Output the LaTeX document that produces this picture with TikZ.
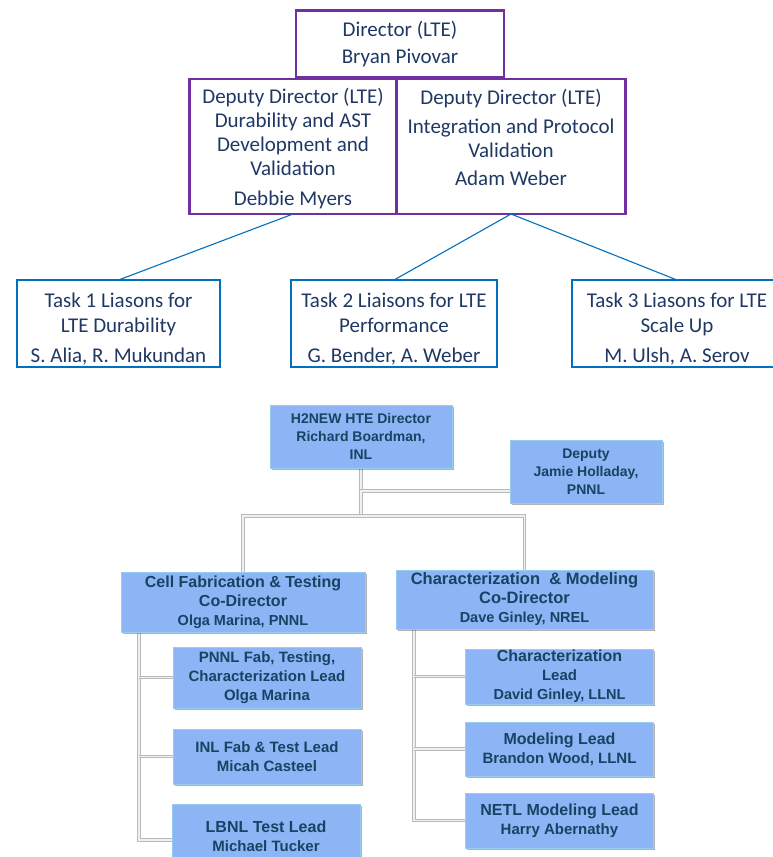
\documentclass[tikz,border=0pt]{standalone}
\usepackage{fontspec}
\newfontfamily\ltefont{Carlito}
\newfontfamily\htefont{Liberation Sans}
\usetikzlibrary{positioning,shadows,backgrounds,calc}

\definecolor{ltepurple}{RGB}{112,48,160}
\definecolor{ltetext}{RGB}{31,56,100}
\definecolor{taskblue}{RGB}{0,112,192}
\definecolor{htefill}{RGB}{141,180,245}
\definecolor{hteedge}{RGB}{150,205,240}
\definecolor{htetext}{RGB}{22,68,98}

\newcommand{\namesize}{\fontsize{14.5}{19}\selectfont}

\tikzset{
  ltebox/.style={draw=ltepurple, line width=2.6pt, text=ltetext, align=center,
    inner sep=0pt, outer sep=0pt, font=\ltefont\fontsize{21}{24}\selectfont},
  taskbox/.style={draw=taskblue, line width=2.6pt, text=ltetext, align=center,
    inner sep=0pt, outer sep=0pt, minimum height=87pt,
    font=\ltefont\fontsize{21}{25}\selectfont},
  liaison/.style={draw=taskblue, line width=1.1pt},
  htebox/.style={fill=htefill, draw=hteedge, line width=1pt, text=htetext,
    align=center, inner sep=0pt, outer sep=0pt,
    font=\htefont\bfseries\fontsize{15}{19}\selectfont,
    drop shadow={shadow xshift=1.5pt, shadow yshift=-1.5pt, opacity=.3, fill=black}},
  branch/.style={draw=gray!55, line width=.7pt, double=gray!12, double distance=1.8pt}
}

\begin{document}
\begin{tikzpicture}[x=1pt, y=-1pt]
  \useasboundingbox (0,0) rectangle (773,857);

  \node [ltebox, minimum width=208pt, minimum height=67pt] (dir) at (400,44)
    {Director (LTE)\\[3pt] Bryan Pivovar};
  \node [ltebox, minimum width=207pt, minimum height=135pt] (depL) at (293,146.5)
    {\rule{0pt}{19pt}Deputy Director (LTE)\\ Durability and AST\\ Development and\\ Validation\\[6pt] Debbie Myers};
  \node [ltebox, minimum width=229pt, minimum height=135pt, right=0pt of depL] (depR)
    {Deputy Director (LTE)\\[5pt] Integration and Protocol\\ Validation\\[4pt] Adam Weber\rule[-18pt]{0pt}{1pt}};

  \foreach \i/\x/\w/\txt in {
      1/118.5/203/{Task 1 Liasons for\\ LTE Durability\\[5pt] S. Alia, R. Mukundan},
      2/394/206/{Task 2 Liaisons for LTE\\ Performance\\[5pt] G. Bender, A. Weber},
      3/677/210/{Task 3 Liasons\ for LTE\\ Scale Up\\[5pt] M. Ulsh, A. Serov}} {
    \node [taskbox, minimum width=\w pt] (task\i) at (\x,323.5) {\rule{0pt}{25pt}\txt};
  }

  \draw [liaison] (depL.south) -- (task1.north);
  \draw [liaison] (depR.south) -- (task2.north);
  \draw [liaison] (depR.south) -- (task3.north);

  \node [htebox, minimum width=182pt, minimum height=63pt,
    font=\htefont\bfseries\fontsize{14}{18}\selectfont] (h2dir) at (361,436.5)
    {H2NEW HTE Director\\ Richard Boardman,\\ INL};
  \node [htebox, minimum width=152pt, minimum height=63pt,
    font=\htefont\bfseries\fontsize{14}{18}\selectfont] (hdep) at (586,472)
    {Deputy\\ Jamie Holladay,\\ PNNL};

  \node [htebox, minimum width=244pt, minimum height=60pt,
    font=\htefont\bfseries\fontsize{16}{19}\selectfont] (cellfab) at (243,602)
    {Cell Fabrication \& Testing\\ Co-Director\\ \namesize Olga Marina, PNNL};
  \node [htebox, minimum width=257pt, minimum height=59pt,
    font=\htefont\bfseries\fontsize{16.5}{19}\selectfont] (charmod) at (524.5,599.5)
    {Characterization \ \& Modeling\\ Co-Director\\ \namesize Dave Ginley, NREL};

  \foreach \n/\x/\y/\h/\txt in {
      pnnl/267/677.5/61/{PNNL Fab, Testing,\\ Characterization Lead\\ Olga Marina},
      inl/267/756.5/55/{INL Fab \& Test Lead\\ Micah Casteel},
      lbnl/266/836/64/{\fontsize{16}{19}\selectfont LBNL Test Lead\\ Michael Tucker},
      charlead/559.5/676.5/55/{\fontsize{16}{19}\selectfont Characterization\\ Lead\\ \namesize David Ginley, LLNL},
      modlead/559.5/749/54/{\fontsize{16}{19}\selectfont Modeling Lead\\ Brandon Wood, LLNL},
      netl/559.5/820.5/55/{\fontsize{16}{19}\selectfont NETL Modeling Lead\\ Harry Abernathy}} {
    \node [htebox, minimum width=188pt, minimum height=\h pt] (\n) at (\x,\y) {\txt};
  }

  \begin{pgfonlayer}{background}
    \coordinate (split) at (361,516);
    \coordinate (lstem) at ([xshift=18pt]cellfab.south west);
    \coordinate (rstem) at ([xshift=18pt]charmod.south west);

    \draw [branch] (h2dir.south) -- (split);
    \draw [branch] ([yshift=-19pt]hdep.west) -| (split);
    \draw [branch] (cellfab.north) |- (split) -| (charmod.north);

    \draw [branch] (lstem) |- ([yshift=-4pt]lbnl.west);
    \draw [branch] (lstem |- pnnl.west) -- (pnnl.west);
    \draw [branch] (lstem |- inl.west) -- (inl.west);

    \draw [branch] (rstem) |- (netl.west);
    \draw [branch] (rstem |- charlead.west) -- (charlead.west);
    \draw [branch] (rstem |- modlead.west) -- (modlead.west);
  \end{pgfonlayer}
\end{tikzpicture}
\end{document}
